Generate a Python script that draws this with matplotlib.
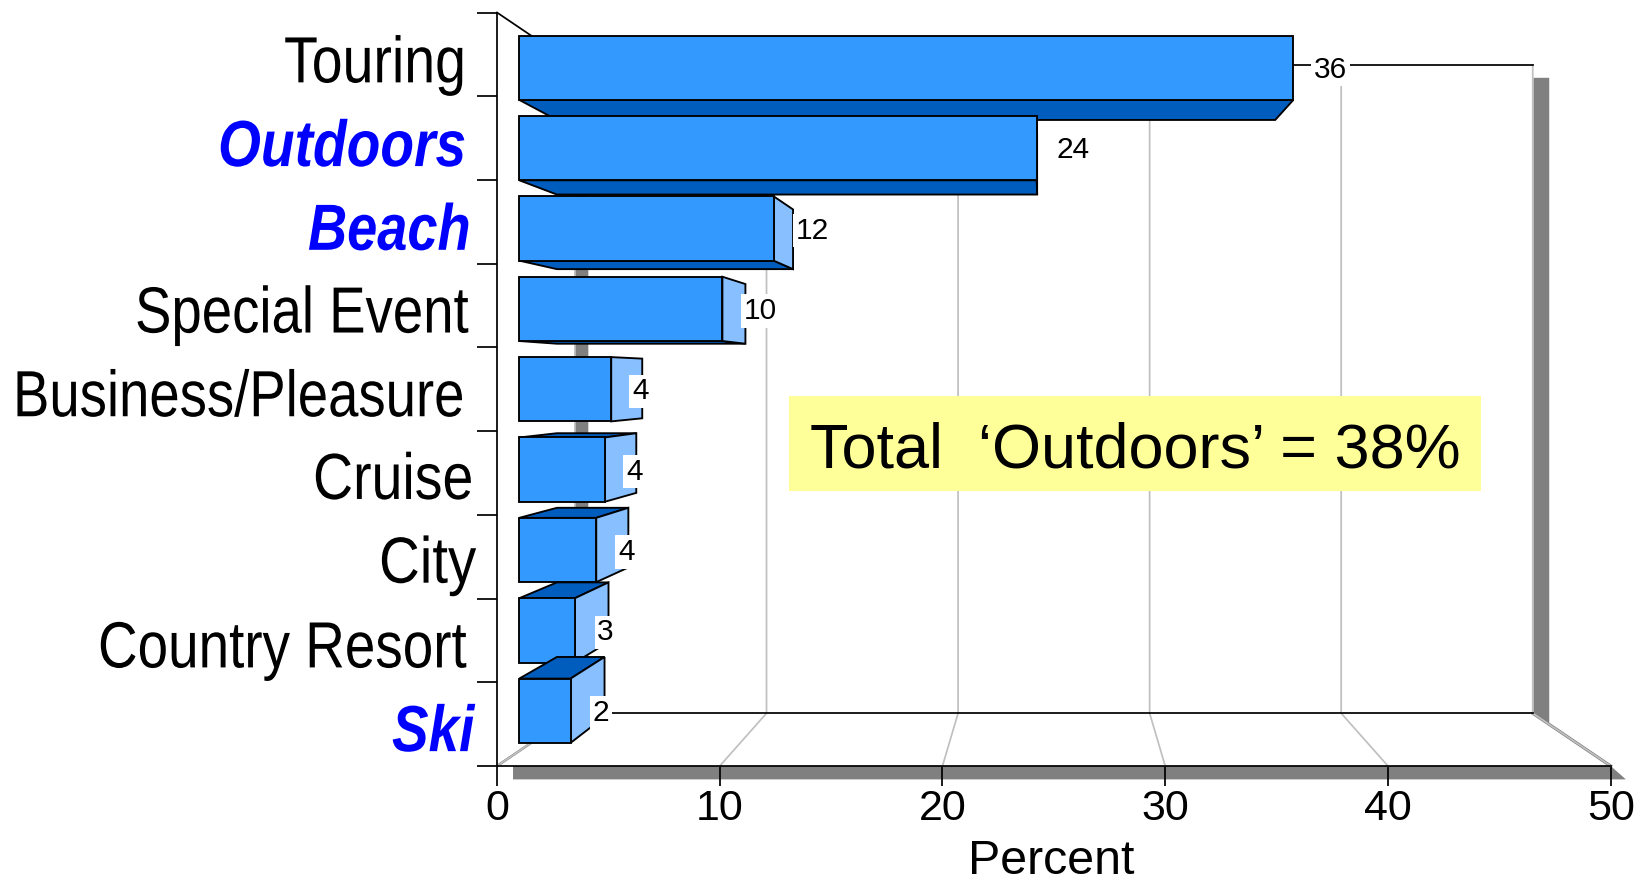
#!/usr/bin/env python3
"""Horizontal 3D-look bar chart of trip types, percent of trips."""

import matplotlib
matplotlib.use("Agg")
import matplotlib.pyplot as plt
from matplotlib.patches import Polygon, Rectangle
from matplotlib.patheffects import AbstractPathEffect
from matplotlib.transforms import Affine2D

categories = ["Touring", "Outdoors", "Beach", "Special Event", "Business/Pleasure",
              "Cruise", "City", "Country Resort", "Ski"]
percent = [36.2, 24.2, 11.9, 9.5, 4.3, 4.0, 3.6, 2.6, 2.4]
outdoor_types = ["Outdoors", "Beach", "Ski"]
x_ticks = [0, 10, 20, 30, 40, 50]
note = "Total  \u2018Outdoors\u2019 = 38%"

# layout in pixels, tweaked against the picture
label_dx = [55, 36, 19, 15, -2, -2, -2, -3, -4]
name_dx = [-213, -279, -189, -362, -484, -184, -118, -399, -105]
name_dy = [-28, -28, -28, -27, -27, -26, -26, -27, -27]
name_squeeze = [0.85, 0.845, 0.83, 0.836, 0.835, 0.85, 0.865, 0.84, 0.84]

FRONT = "#3399FF"
DARK = "#005CBD"
SIDE = "#87BFFF"
GRID = "#C0C0C0"
SHADOW = "#808080"
LW = 1.25
BAR_LW = 1.35

plt.rcParams["font.family"] = ["Liberation Sans", "DejaVu Sans"]


class Squeeze(AbstractPathEffect):
    # no narrow face is installed, so squeeze the glyphs towards their left edge
    def __init__(self, factor, left):
        super().__init__()
        self.factor = factor
        self.left = left

    def draw_path(self, renderer, gc, tpath, affine, rgbFace=None):
        squeeze = Affine2D().translate(-self.left, 0).scale(self.factor, 1).translate(self.left, 0)
        renderer.draw_path(gc, tpath, affine + squeeze, rgbFace)


W, H = 1643, 882
fig = plt.figure(figsize=(W / 100, H / 100), dpi=100)
ax = fig.add_axes([497 / W, (H - 766) / H, (1610.7 - 497) / W, (766 - 12.5) / H])
ax.set_xlim(0, 50)
ax.set_ylim(9, 0)  # first category on top


def wall(x, y, s=0.86):
    # perspective towards the middle of the plot
    return 25 + (x - 25) * s, 4.5 + (y - 4.5) * s


def deep(x, y, k=0.928):
    # back face of a bar from its front face
    return 24.47 + (x - 24.47) * k, 4.37 + (y - 4.37) * k


def poly(pts, color, z, edge="black", lw=BAR_LW):
    ax.add_patch(Polygon(pts, closed=True, facecolor=color, edgecolor=edge, linewidth=lw,
                         joinstyle="miter", clip_on=False, zorder=z))


# gray shadows of the floor and the two walls
poly([(0.72, 9.16), (0.72, 9), (50, 9), (50.68, 9.16)], SHADOW, 1, edge="none")
poly([(46.53, 0.78), (47.24, 0.78), (47.24, 8.5), (46.53, 8.38)], SHADOW, 1, edge="none")
poly([(3.5, 0.78), (4.1, 0.78), (4.1, 8.5), (3.5, 8.38)], SHADOW, 1, edge="none")

# grid lines run along the floor and up the back wall
for v in x_ticks:
    bx, by = wall(v, 9)
    tx, ty = wall(v, 0)
    ax.plot([v, bx, tx], [9, by, ty], color=GRID, lw=LW, clip_on=False, zorder=2)
ax.plot([50, wall(50, 9)[0]], [9, wall(50, 9)[1]], color=SHADOW, lw=2.2, clip_on=False, zorder=1.5)
ax.plot([0, wall(0, 9)[0]], [9, wall(0, 9)[1]], color=SHADOW, lw=1.8, clip_on=False, zorder=1.5)

x0, y0 = wall(0, 0)
x1, y1 = wall(50, 9)
ax.plot([x0, x1], [y0, y0], color="black", lw=LW, clip_on=False, zorder=2.5)
ax.plot([x0, x1], [y1, y1], color="black", lw=LW, clip_on=False, zorder=2.5)
ax.plot([0, x0], [0, y0], color="black", lw=LW, clip_on=False, zorder=2.5)

ax.add_patch(Rectangle((13.1, 4.58), 31.07, 1.14, facecolor="#FFFF99", edgecolor="none", zorder=3))
ax.text(28.65, 5.235, note, fontsize=45.4, ha="center", va="center", color="black", zorder=3.5)

# bars from top to bottom, the lower ones cover the upper ones
for i, v in enumerate(percent):
    z = 4 + i * 0.1
    fl, ft = wall(0, i + 0.1, s=0.96)
    fr, fb = wall(v, i + 0.9, s=0.96)
    bl, bt = deep(fl, ft)
    br, bb = deep(fr, fb)
    if bt < ft:
        poly([(fl, ft), (fr, ft), (br, bt), (bl, bt)], DARK, z)
    if bb > fb:
        poly([(fl, fb), (fr, fb), (br, bb), (bl, bb)], DARK, z)
    if br > fr:
        poly([(fr, ft), (br, bt), (br, bb), (fr, fb)], SIDE, z)
    poly([(fl, ft), (fr, ft), (fr, fb), (fl, fb)], FRONT, z + 0.01)

    ax.annotate(f"{v:.0f}", xy=(br, (ft + fb) / 2), xytext=(label_dx[i], -2),
                textcoords="offset pixels", fontsize=21.5, ha="center", va="center",
                annotation_clip=False, zorder=20,
                bbox=dict(facecolor="white", edgecolor="none", pad=2))

# category names, the outdoor ones in bold blue
for i, name in enumerate(categories):
    outdoor = name in outdoor_types
    left = ax.transData.transform((0, i + 0.5))[0] + name_dx[i]
    ax.annotate(name, xy=(0, i + 0.5), xytext=(name_dx[i], name_dy[i]),
                textcoords="offset pixels", ha="left", va="baseline",
                fontsize=47, annotation_clip=False,
                color="#0000FF" if outdoor else "black",
                fontweight="bold" if outdoor else "normal",
                fontstyle="italic" if outdoor else "normal",
                path_effects=[Squeeze(name_squeeze[i], left)])

for side in ("top", "right"):
    ax.spines[side].set_visible(False)
for side in ("left", "bottom"):
    ax.spines[side].set_linewidth(LW)
    ax.spines[side].set_zorder(6)
ax.patch.set_visible(False)
ax.set_xticks(x_ticks)
ax.set_yticks(range(10))
ax.set_yticklabels([])
ax.tick_params(axis="both", length=14.5, width=LW, zorder=6)
ax.tick_params(axis="x", labelsize=31, pad=2)
ax.set_xlabel("Percent", fontsize=34.8, labelpad=7.5, x=0.498)

plt.savefig("out.png", dpi=100)
